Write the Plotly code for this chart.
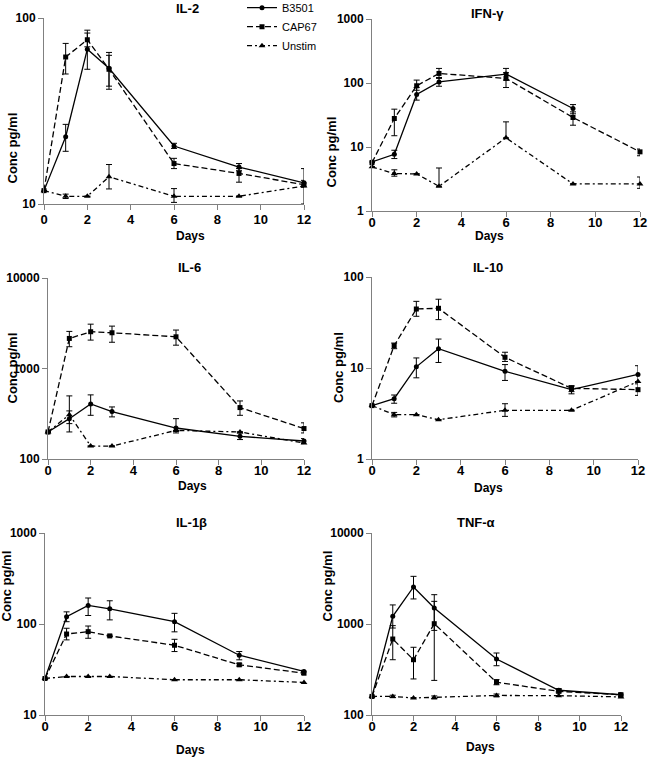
import plotly.graph_objects as go

days = [0, 1, 2, 3, 6, 9, 12]
series_names = ["B3501", "CAP67", "Unstim"]
panel_titles = ["IL-2", "IFN-γ", "IL-6", "IL-10", "IL-1β", "TNF-α"]

# means and error-bar bounds (hi / lo) read per panel, per series
il2_b3501 = [11.8, 23, 68, 53.7, 20.5, 15.8, 13.0]
il2_b3501_hi = [11.8, 26.8, 83, 65.3, 21.2, 16.5, 13.4]
il2_b3501_lo = [11.8, 19.2, 53, 41.4, 19.9, 15.1, 12.3]
il2_cap67 = [11.8, 61.7, 76.4, 53, 16.5, 14.6, 12.7]
il2_cap67_hi = [11.8, 73, 86, 63, 17.6, 15.5, 15.5]
il2_cap67_lo = [11.8, 50, 70, 43, 15.5, 13.1, 10.0]
il2_unstim = [11.8, 11.0, 11.0, 14.0, 11.0, 11.0, 12.5]
il2_unstim_hi = [11.8, 11.3, 11.0, 16.3, 12.1, 11.0, 12.5]
il2_unstim_lo = [11.8, 10.7, 11.0, 12.05, 10.2, 11.0, 12.5]

ifn_b3501 = [5.85, 7.7, 66, 104, 138, 40, None]
ifn_b3501_hi = [5.85, 8.9, 85, 122, 169, 46, None]
ifn_b3501_lo = [5.85, 6.6, 54, 89, 111, 33, None]
ifn_cap67 = [5.7, 27.9, 90.5, 141, 118, 28.9, 8.4]
ifn_cap67_hi = [5.7, 39, 111, 169, 145, 35.4, 9.3]
ifn_cap67_lo = [5.7, 15, 77, 118, 85, 21.9, 7.3]
ifn_unstim = [4.9, 3.84, 3.8, 2.43, 13.9, 2.65, 2.65]
ifn_unstim_hi = [4.9, 4.4, 3.8, 4.7, 24.7, 2.65, 3.4]
ifn_unstim_lo = [4.9, 3.5, 3.8, 2.43, 13.9, 2.65, 2.26]

il6_b3501 = [199, 279, 406, 334, 220, 178, 158]
il6_b3501_hi = [199, 340, 511, 376, 279, 194, 168]
il6_b3501_lo = [199, 246, 304, 292, 194, 164, 148]
il6_cap67 = [199, 2148, 2548, 2483, 2240, 370, 217]
il6_cap67_hi = [199, 2570, 3090, 2940, 2660, 438, 251]
il6_cap67_lo = [199, 1740, 2060, 1950, 1810, 304, 194]
il6_unstim = [199, 309, 139, 139, 207, 199, 150]
il6_unstim_hi = [199, 498, 139, 139, 207, 199, 150]
il6_unstim_lo = [199, 199, 139, 139, 207, 199, 150]

il10_b3501 = [3.86, 4.6, 10.3, 16.3, 9.2, 5.78, 8.5]
il10_b3501_hi = [3.86, 5.05, 12.9, 20.8, 10.9, 6.3, 10.6]
il10_b3501_lo = [3.86, 4.1, 7.8, 11.5, 7.3, 5.2, 7.1]
il10_cap67 = [3.86, 17.6, 44.5, 45.3, 13.1, 5.98, 5.78]
il10_cap67_hi = [3.86, 18.8, 54, 57, 14.9, 6.4, 6.7]
il10_cap67_lo = [3.86, 16.3, 37, 34, 11.8, 5.5, 5.0]
il10_unstim = [3.86, 3.07, 3.07, 2.7, 3.43, 3.43, 7.1]
il10_unstim_hi = [3.86, 3.25, 3.07, 2.7, 4.05, 3.43, 7.1]
il10_unstim_lo = [3.86, 2.9, 3.07, 2.7, 2.94, 3.43, 7.1]

il1b_b3501 = [25.2, 120, 160, 147, 106, 45.4, 30.1]
il1b_b3501_hi = [25.2, 136, 193, 180, 131, 49.8, 31]
il1b_b3501_lo = [25.2, 106, 124, 111, 82, 40.4, 29]
il1b_cap67 = [25.2, 77.6, 82.4, 74, 58.4, 35.6, 28.8]
il1b_cap67_hi = [25.2, 89.8, 95, 75.5, 67.9, 37, 30]
il1b_cap67_lo = [25.2, 66.9, 69.7, 72.5, 49.8, 34.5, 27.8]
il1b_unstim = [25.2, 26.5, 26.5, 26.5, 24.4, 24.4, 22.8]
il1b_unstim_hi = il1b_unstim
il1b_unstim_lo = il1b_unstim

tnf_b3501 = [160, 1213, 2552, 1500, 412, 187, 167]
tnf_b3501_hi = [160, 1620, 3340, 2100, 480, 195, 172]
tnf_b3501_lo = [160, 903, 1885, 851, 348, 180, 162]
tnf_cap67 = [160, 684, 405, 1008, 229, 182, 167]
tnf_cap67_hi = [160, 959, 555, 1774, 245, 190, 175]
tnf_cap67_lo = [160, 405, 249, 240, 215, 175, 160]
tnf_unstim = [160, 160, 154, 156, 164, 163, 158]
tnf_unstim_hi = [160, 165, 154, 162, 170, 163, 158]
tnf_unstim_lo = [160, 155, 154, 150, 158, 163, 158]

panels = [
    [(il2_b3501, il2_b3501_hi, il2_b3501_lo), (il2_cap67, il2_cap67_hi, il2_cap67_lo), (il2_unstim, il2_unstim_hi, il2_unstim_lo)],
    [(ifn_b3501, ifn_b3501_hi, ifn_b3501_lo), (ifn_cap67, ifn_cap67_hi, ifn_cap67_lo), (ifn_unstim, ifn_unstim_hi, ifn_unstim_lo)],
    [(il6_b3501, il6_b3501_hi, il6_b3501_lo), (il6_cap67, il6_cap67_hi, il6_cap67_lo), (il6_unstim, il6_unstim_hi, il6_unstim_lo)],
    [(il10_b3501, il10_b3501_hi, il10_b3501_lo), (il10_cap67, il10_cap67_hi, il10_cap67_lo), (il10_unstim, il10_unstim_hi, il10_unstim_lo)],
    [(il1b_b3501, il1b_b3501_hi, il1b_b3501_lo), (il1b_cap67, il1b_cap67_hi, il1b_cap67_lo), (il1b_unstim, il1b_unstim_hi, il1b_unstim_lo)],
    [(tnf_b3501, tnf_b3501_hi, tnf_b3501_lo), (tnf_cap67, tnf_cap67_hi, tnf_cap67_lo), (tnf_unstim, tnf_unstim_hi, tnf_unstim_lo)],
]
y_decades = [(1, 2), (0, 3), (2, 4), (0, 2), (1, 3), (2, 4)]

# plot areas in pixels of the 648x760 page: (left, right, top, bottom)
W, H = 648, 760
boxes = [(44, 304, 18, 204), (372, 640, 19, 211),
         (48, 304, 278, 459), (372, 638, 277, 459),
         (45, 304, 533, 715), (372, 621, 533, 715)]
title_y = [9, 14, 267, 267, 522, 522]       # panel title centres
days_y = [236, 236, 486, 488, 750, 747]     # "Days" label centres
ylab_x = [12, 331, 12, 339, 6, 327]         # "Conc pg/ml" centres
xlab_standoff = [-2, -6, -6, -6, -6, -6]

FONT = "Liberation Sans, Arial, sans-serif"
styles = [
    dict(dash="solid", symbol="circle", size=5),
    dict(dash="6px,3px", symbol="square", size=5),
    dict(dash="5px,3px,2px,3px", symbol="triangle-up", size=6),
]

fig = go.Figure()
annotations = []
layout_axes = {}

for i, (series, dec, box) in enumerate(zip(panels, y_decades, boxes)):
    n = "" if i == 0 else str(i + 1)
    left, right, top, bottom = box
    for j, (vals, hi, lo) in enumerate(series):
        up = [None if v is None else h - v for v, h in zip(vals, hi)]
        dn = [None if v is None else v - l for v, l in zip(vals, lo)]
        st = styles[j]
        fig.add_trace(go.Scatter(
            x=days, y=vals, mode="lines+markers",
            name=series_names[j], showlegend=(i == 0),
            line=dict(color="black", width=1.3, dash=st["dash"]),
            marker=dict(color="black", symbol=st["symbol"], size=st["size"]),
            error_y=dict(type="data", array=up, arrayminus=dn, color="black",
                         thickness=1, width=3),
            cliponaxis=False,
            xaxis="x" + n, yaxis="y" + n,
        ))
    tickv = [10 ** k for k in range(dec[0], dec[1] + 1)]
    layout_axes["xaxis" + n] = dict(
        domain=[left / W, right / W], anchor="y" + n, range=[0, 12],
        tickvals=[0, 2, 4, 6, 8, 10, 12], ticks="outside", ticklen=5,
        tickcolor="#808080", showline=True, linecolor="#808080", linewidth=1,
        showgrid=False, zeroline=False, ticklabeloverflow="allow",
        ticklabelstandoff=xlab_standoff[i],
        tickfont=dict(family=FONT, size=13, color="black", weight="bold"),
    )
    layout_axes["yaxis" + n] = dict(
        domain=[1 - bottom / H, 1 - top / H], anchor="x" + n, type="log",
        range=list(dec), tickvals=tickv, ticktext=[str(t) for t in tickv],
        ticks="outside", ticklen=5, tickcolor="#808080", showline=True,
        linecolor="#808080", linewidth=1, showgrid=False, zeroline=False,
        ticklabeloverflow="allow",
        tickfont=dict(family=FONT, size=12, color="black", weight="bold"),
    )
    cx = (left + right) / 2 / W
    annotations.append(dict(text=panel_titles[i], x=cx, y=1 - title_y[i] / H,
                            xref="paper", yref="paper", showarrow=False,
                            yanchor="middle", font=dict(family=FONT, size=13, color="black", weight="bold")))
    annotations.append(dict(text="Days", x=cx, y=1 - days_y[i] / H,
                            xref="paper", yref="paper", showarrow=False,
                            yanchor="middle", font=dict(family=FONT, size=12, color="black", weight="bold")))
    annotations.append(dict(text="Conc pg/ml", x=ylab_x[i] / W,
                            y=1 - (top + bottom) / 2 / H, xref="paper", yref="paper",
                            showarrow=False, textangle=-90, xanchor="center",
                            font=dict(family=FONT, size=13, color="black", weight="bold")))

fig.update_layout(
    width=W, height=H, margin=dict(l=0, r=0, t=0, b=0, autoexpand=False),
    paper_bgcolor="white", plot_bgcolor="white",
    annotations=annotations,
    legend=dict(x=242 / W, y=1.009, xanchor="left", yanchor="top",
                font=dict(family=FONT, size=11, color="black"),
                bgcolor="rgba(0,0,0,0)", tracegroupgap=0, itemwidth=30),
    **layout_axes,
)

# drop the page's default body margin so the figure sits at the top-left corner
fig.write_html("out.html", config={"displayModeBar": False},
               post_script="document.body.style.margin='0';")
